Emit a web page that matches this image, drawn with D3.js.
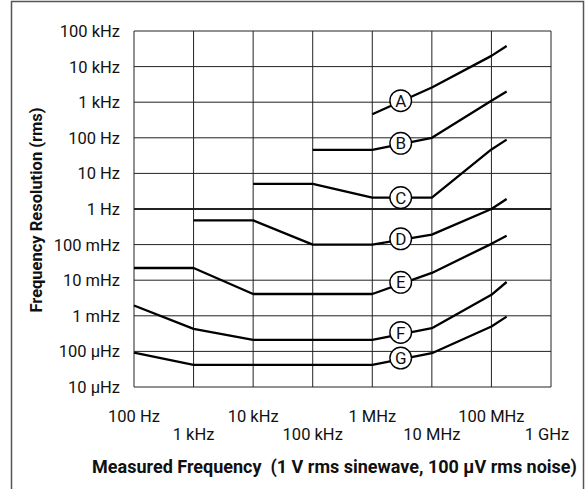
<!DOCTYPE html>
<html>
<head>
<meta charset="utf-8">
<script src="https://cdn.jsdelivr.net/npm/d3@7"></script>
<style>
  body { margin: 0; background: #fff; }
  svg text { font-family: Roboto, "Liberation Sans", sans-serif; fill: #111; white-space: pre; }
</style>
</head>
<body>
<div id="chart"></div>
<script>
// decade ticks on both axes
const xTicks = [1e2, 1e3, 1e4, 1e5, 1e6, 1e7, 1e8, 1e9];
const xTickLabels = ["100 Hz", "1 kHz", "10 kHz", "100 kHz", "1 MHz", "10 MHz", "100 MHz", "1 GHz"];
const yTicks = [1e-5, 1e-4, 1e-3, 1e-2, 1e-1, 1, 10, 100, 1e3, 1e4, 1e5];
const yTickLabels = ["10 \u03bcHz", "100 \u03bcHz", "1 mHz", "10 mHz", "100 mHz", "1 Hz",
  "10 Hz", "100 Hz", "1 kHz", "10 kHz", "100 kHz"];

// one curve per gate time (Hz)
const curveNames = ["A", "B", "C", "D", "E", "F", "G"];
const freqA = [1e6, 1e7, 1e8, 1.8e8];
const resA = [460, 2600, 20000, 38000];
const freqB = [1e5, 1e6, 1e7, 1e8, 1.8e8];
const resB = [46, 46, 100, 1100, 2000];
const freqC = [1e4, 1e5, 1e6, 1e7, 1e8, 1.8e8];
const resC = [5.1, 5.1, 2.1, 2.1, 47, 89];
const freqD = [1e3, 1e4, 1e5, 1e6, 1e7, 1e8, 1.8e8];
const resD = [0.48, 0.48, 0.1, 0.1, 0.19, 1.0, 1.9];
const freqE = [1e2, 1e3, 1e4, 1e6, 1e7, 1e8, 1.8e8];
const resE = [0.022, 0.022, 0.0041, 0.0041, 0.016, 0.105, 0.178];
const freqF = [1e2, 1e3, 1e4, 1e6, 1e7, 1e8, 1.8e8];
const resF = [0.00195, 0.00043, 0.00021, 0.00021, 0.00045, 0.0039, 0.0089];
const freqG = [1e2, 1e3, 1e6, 1e7, 1e8, 1.8e8];
const resG = [9.3e-5, 4.2e-5, 4.2e-5, 8.9e-5, 5e-4, 9.5e-4];

// where the circled letters sit
const labelFreq = 3e6;
const labelRes = [1100, 70, 2.1, 0.145, 0.0087, 0.00034, 6.5e-5];

const curves = [
  [freqA, resA], [freqB, resB], [freqC, resC], [freqD, resD],
  [freqE, resE], [freqF, resF], [freqG, resG]
];

const width = 588, height = 489;
const margin = { top: 31, right: 37, bottom: 102, left: 134 };

const svg = d3.select("#chart")
  .append("svg")
  .attr("width", width)
  .attr("height", height);

// outer frame
svg.append("path")
  .attr("d", "M11.5,495 V1.5 H583.5 V495")
  .attr("fill", "none")
  .attr("stroke", "#555")
  .attr("stroke-width", 1.5);

const x = d3.scaleLog()
  .domain([1e2, 1e9])
  .range([margin.left, width - margin.right]);

const y = d3.scaleLog()
  .domain([1e-5, 1e5])
  .range([height - margin.bottom, margin.top]);

const grid = svg.append("g");

grid.selectAll("line.v")
  .data(xTicks)
  .enter()
  .append("line")
  .attr("class", "v")
  .attr("x1", d => x(d)).attr("x2", d => x(d))
  .attr("y1", y.range()[1]).attr("y2", y.range()[0])
  .attr("stroke", "#222")
  .attr("stroke-width", 1);

grid.selectAll("line.h")
  .data(yTicks)
  .enter()
  .append("line")
  .attr("class", "h")
  .attr("x1", x.range()[0]).attr("x2", x.range()[1])
  .attr("y1", d => y(d)).attr("y2", d => y(d))
  .attr("stroke", "#222")
  .attr("stroke-width", d => d === 1 ? 1.8 : 1);

// y tick labels
svg.selectAll("text.ylab")
  .data(yTicks)
  .enter()
  .append("text")
  .attr("class", "ylab")
  .attr("x", 120)
  .attr("y", d => y(d))
  .attr("dy", "0.36em")
  .attr("text-anchor", "end")
  .style("font-size", "16.5px")
  .text((d, i) => yTickLabels[i]);

// x tick labels, staggered on two rows
svg.selectAll("text.xlab")
  .data(xTicks)
  .enter()
  .append("text")
  .attr("class", "xlab")
  .attr("x", (d, i) => x(d) + (i === 7 ? -4 : 0))
  .attr("y", (d, i) => i % 2 === 0 ? 421.5 : 440)
  .attr("text-anchor", "middle")
  .style("font-size", "16.5px")
  .text((d, i) => xTickLabels[i]);

// curves
const line = d3.line()
  .x(d => x(d[0]))
  .y(d => y(d[1]));

svg.selectAll("path.curve")
  .data(curves)
  .enter()
  .append("path")
  .attr("class", "curve")
  .attr("d", c => line(d3.zip(c[0], c[1])))
  .attr("fill", "none")
  .attr("stroke", "#000")
  .attr("stroke-width", 2.3)
  .attr("stroke-linejoin", "round");

// circled letters
const tags = svg.selectAll("g.tag")
  .data(curveNames)
  .enter()
  .append("g")
  .attr("class", "tag")
  .attr("transform", (d, i) => `translate(${x(labelFreq)},${y(labelRes[i])})`);

tags.append("circle")
  .attr("r", 10.8)
  .attr("fill", "#fff")
  .attr("stroke", "#000")
  .attr("stroke-width", 1.4);

tags.append("text")
  .attr("text-anchor", "middle")
  .attr("dy", "0.36em")
  .style("font-size", "17px")
  .text(d => d);

// axis titles
svg.append("text")
  .attr("x", 334.5)
  .attr("y", 472.5)
  .attr("text-anchor", "middle")
  .style("font-size", "18px")
  .style("font-weight", "bold")
  .text("Measured Frequency  (1 V rms sinewave, 100 \u03bcV rms noise)");

svg.append("text")
  .attr("transform", "translate(41.5,210) rotate(-90)")
  .attr("text-anchor", "middle")
  .style("font-size", "16.5px")
  .style("font-weight", "bold")
  .text("Frequency Resolution (rms)");
</script>
</body>
</html>
